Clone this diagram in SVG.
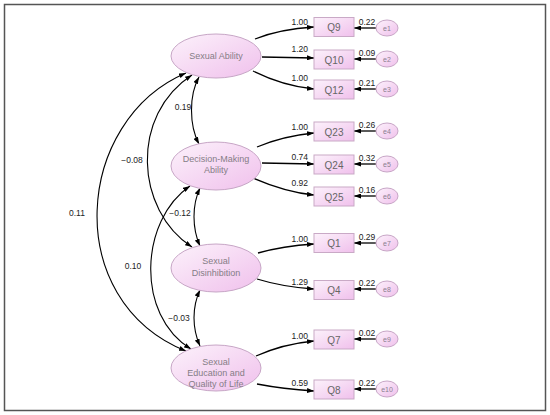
<svg xmlns="http://www.w3.org/2000/svg" width="550" height="415" viewBox="0 0 550 415">
<defs>
<linearGradient id="gPink" x1="0" y1="0" x2="1" y2="1">
<stop offset="0" stop-color="#fcf2fb"/>
<stop offset="1" stop-color="#f0c0ec"/>
</linearGradient>
<marker id="ah" viewBox="0 0 7 5" refX="7" refY="2.5" markerUnits="userSpaceOnUse" markerWidth="7" markerHeight="5" orient="auto-start-reverse">
<path d="M0,0 L7,2.5 L0,5 z" fill="#000"/>
</marker>
<style>
.lat{fill:url(#gPink);stroke:#c7a6c6;stroke-width:1}
.obs{fill:url(#gPink);stroke:#c9a9c6;stroke-width:1}
.err{fill:url(#gPink);stroke:#c7a6c6;stroke-width:1}
.latT{font-family:"Liberation Sans",Arial,sans-serif;font-size:9px;fill:#857d86;text-anchor:middle}
.obsT{font-family:"Liberation Sans",Arial,sans-serif;font-size:10px;fill:#666;text-anchor:middle}
.errT{font-family:"Liberation Sans",Arial,sans-serif;font-size:7px;fill:#8a8090;text-anchor:middle}
.numE{font-family:"Liberation Sans",Arial,sans-serif;font-size:8.5px;fill:#222;text-anchor:end}
.numM{font-family:"Liberation Sans",Arial,sans-serif;font-size:8.5px;fill:#222;text-anchor:middle}
.one{fill:none;stroke:#000;stroke-width:1.3;marker-end:url(#ah)}
.two{fill:none;stroke:#000;stroke-width:1.1;marker-end:url(#ah);marker-start:url(#ah)}
</style>
</defs>
<rect x="4.5" y="4.5" width="541" height="406" fill="#fff" stroke="#555" stroke-width="1.5"/>

<g id="connectors">
<path class="two" d="M199,77 C189,95 189,125 199,144"/>
<path class="two" d="M200,188 C192,205 192,228 200,246"/>
<path class="two" d="M200,290 C192,307 192,328 200,346"/>
<path class="two" d="M192,75 C130,115 135,210 192,247"/>
<path class="two" d="M186,73 C75,120 60,300 186,351"/>
<path class="two" d="M190,186 C140,220 135,315 191,349"/>
<path class="one" d="M255,39 Q280,29 314,27"/>
<path class="one" d="M262,57 L314,58"/>
<path class="one" d="M253,71 Q283,86 314,89"/>
<path class="one" d="M257,147 Q283,136 314,133"/>
<path class="one" d="M262,163 L314,164"/>
<path class="one" d="M253,178 Q285,192 314,195"/>
<path class="one" d="M258,253 Q283,246 314,244"/>
<path class="one" d="M257,279 Q283,287 314,289"/>
<path class="one" d="M256,356 Q283,344 314,341"/>
<path class="one" d="M257,384 Q283,389 314,391"/>
<path class="one" d="M376,28 L354,28"/>
<path class="one" d="M376,59 L354,59"/>
<path class="one" d="M376,89 L354,89"/>
<path class="one" d="M376,131 L354,131"/>
<path class="one" d="M376,164 L354,164"/>
<path class="one" d="M376,196 L354,196"/>
<path class="one" d="M376,243 L354,243"/>
<path class="one" d="M376,289 L354,289"/>
<path class="one" d="M376,339 L354,339"/>
<path class="one" d="M376,389 L354,389"/>
<text class="numM" x="183" y="110">0.19</text>
<text class="numM" x="132" y="163">−0.08</text>
<text class="numM" x="77" y="216">0.11</text>
<text class="numM" x="180" y="216">−0.12</text>
<text class="numM" x="133" y="269">0.10</text>
<text class="numM" x="179" y="321">−0.03</text>
<text class="numE" x="308" y="25">1.00</text>
<text class="numE" x="308" y="52">1.20</text>
<text class="numE" x="308" y="81">1.00</text>
<text class="numE" x="308" y="130">1.00</text>
<text class="numE" x="308" y="160">0.74</text>
<text class="numE" x="308" y="186">0.92</text>
<text class="numE" x="308" y="242">1.00</text>
<text class="numE" x="308" y="285">1.29</text>
<text class="numE" x="308" y="339">1.00</text>
<text class="numE" x="308" y="386">0.59</text>
<text class="numM" x="367" y="25">0.22</text>
<text class="numM" x="367" y="56">0.09</text>
<text class="numM" x="367" y="86">0.21</text>
<text class="numM" x="367" y="128">0.26</text>
<text class="numM" x="367" y="161">0.32</text>
<text class="numM" x="367" y="193">0.16</text>
<text class="numM" x="367" y="240">0.29</text>
<text class="numM" x="367" y="286">0.22</text>
<text class="numM" x="367" y="336">0.02</text>
<text class="numM" x="367" y="386">0.22</text>
</g>

<g id="SA"><ellipse class="lat" cx="216" cy="56" rx="45" ry="22"/><text class="latT" x="216" y="59">Sexual Ability</text></g>
<g id="DMA"><ellipse class="lat" cx="216" cy="166" rx="45" ry="24"/><text class="latT" x="216" y="162">Decision-Making</text><text class="latT" x="216" y="173">Ability</text></g>
<g id="SD"><ellipse class="lat" cx="216" cy="268" rx="45" ry="24"/><text class="latT" x="216" y="264">Sexual</text><text class="latT" x="216" y="276">Disinhibition</text></g>
<g id="SE"><ellipse class="lat" cx="216" cy="368" rx="45" ry="23"/><text class="latT" x="216" y="365">Sexual</text><text class="latT" x="216" y="376">Education and</text><text class="latT" x="216" y="387">Quality of Life</text></g>

<g id="Q9"><rect class="obs" x="314" y="17.5" width="40" height="19"/><text class="obsT" x="334" y="31">Q9</text></g>
<g id="Q10"><rect class="obs" x="314" y="50" width="40" height="19"/><text class="obsT" x="334" y="63.5">Q10</text></g>
<g id="Q12"><rect class="obs" x="314" y="80" width="40" height="19"/><text class="obsT" x="334" y="93.5">Q12</text></g>
<g id="Q23"><rect class="obs" x="314" y="122" width="40" height="19"/><text class="obsT" x="334" y="135.5">Q23</text></g>
<g id="Q24"><rect class="obs" x="314" y="155" width="40" height="19"/><text class="obsT" x="334" y="168.5">Q24</text></g>
<g id="Q25"><rect class="obs" x="314" y="187" width="40" height="19"/><text class="obsT" x="334" y="200.5">Q25</text></g>
<g id="Q1"><rect class="obs" x="314" y="233.5" width="40" height="19"/><text class="obsT" x="334" y="247">Q1</text></g>
<g id="Q4"><rect class="obs" x="314" y="280.5" width="40" height="19"/><text class="obsT" x="334" y="294">Q4</text></g>
<g id="Q7"><rect class="obs" x="314" y="330" width="40" height="19"/><text class="obsT" x="334" y="343.5">Q7</text></g>
<g id="Q8"><rect class="obs" x="314" y="380" width="40" height="19"/><text class="obsT" x="334" y="393.5">Q8</text></g>

<g id="e1"><ellipse class="err" cx="387" cy="28" rx="11" ry="8"/><text class="errT" x="387" y="30.5">e1</text></g>
<g id="e2"><ellipse class="err" cx="387" cy="59" rx="11" ry="8"/><text class="errT" x="387" y="61.5">e2</text></g>
<g id="e3"><ellipse class="err" cx="387" cy="89" rx="11" ry="8"/><text class="errT" x="387" y="91.5">e3</text></g>
<g id="e4"><ellipse class="err" cx="387" cy="131" rx="11" ry="8"/><text class="errT" x="387" y="133.5">e4</text></g>
<g id="e5"><ellipse class="err" cx="387" cy="164" rx="11" ry="8"/><text class="errT" x="387" y="166.5">e5</text></g>
<g id="e6"><ellipse class="err" cx="387" cy="196" rx="11" ry="8"/><text class="errT" x="387" y="198.5">e6</text></g>
<g id="e7"><ellipse class="err" cx="387" cy="243" rx="11" ry="8"/><text class="errT" x="387" y="245.5">e7</text></g>
<g id="e8"><ellipse class="err" cx="387" cy="289" rx="11" ry="8"/><text class="errT" x="387" y="291.5">e8</text></g>
<g id="e9"><ellipse class="err" cx="387" cy="339" rx="11" ry="8"/><text class="errT" x="387" y="341.5">e9</text></g>
<g id="e10"><ellipse class="err" cx="387" cy="389" rx="11" ry="8"/><text class="errT" x="387" y="391.5">e10</text></g>
</svg>
